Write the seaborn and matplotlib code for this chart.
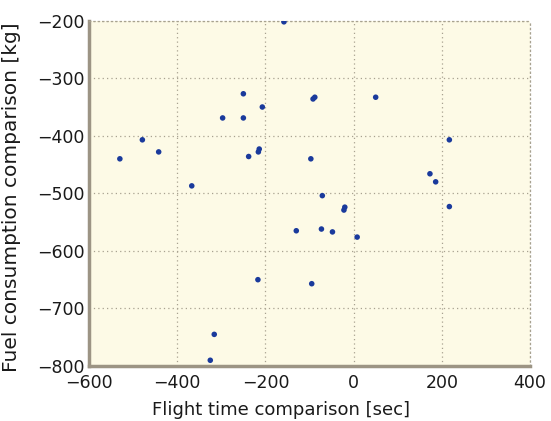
import matplotlib
matplotlib.use("Agg")
import matplotlib.pyplot as plt
import seaborn as sns
import pandas as pd

flight_time = [-158, -250, -207, -297, -250, -479, -442, -530, -238, -216, -214,
               -367, -92, -88, -97, 50, -71, 217, 173, 186, -130, -217, -95,
               -316, -325, -20, -22, 217, -73, -48, 8]
fuel = [-202, -327, -350, -369, -369, -407, -428, -440, -436, -428, -423,
        -487, -336, -333, -440, -333, -504, -407, -466, -480, -565, -650, -657,
        -745, -790, -524, -529, -523, -562, -567, -576]
x_ticks = [-600, -400, -200, 0, 200, 400]
y_ticks = [-800, -700, -600, -500, -400, -300, -200]

df = pd.DataFrame({"Flight time comparison [sec]": flight_time,
                   "Fuel consumption comparison [kg]": fuel})

sns.set_style("white")
plt.rcParams["font.family"] = ["DejaVu Sans"]
plt.rcParams["text.color"] = "#1a1a1a"
plt.rcParams["axes.labelcolor"] = "#1a1a1a"
plt.rcParams["xtick.labelcolor"] = "#1a1a1a"
plt.rcParams["ytick.labelcolor"] = "#1a1a1a"

fig = plt.figure(figsize=(5.51, 4.21), dpi=100)
ax = fig.add_axes([0.1615, 0.1306, 0.8005, 0.8203])
ax.set_facecolor("#fdfae6")

sns.scatterplot(data=df, x="Flight time comparison [sec]",
                y="Fuel consumption comparison [kg]", ax=ax,
                color="#1a3a9c", s=16, edgecolor="none", zorder=3)

ax.set_xlim(-600, 400)
ax.set_ylim(-800, -200)
ax.set_xticks(x_ticks)
ax.set_yticks(y_ticks)
ax.set_xticklabels([str(v).replace("-", "\u2212") for v in x_ticks], fontsize=12.5)
ax.set_yticklabels([str(v).replace("-", "\u2212") for v in y_ticks], fontsize=12.5)
ax.grid(True, linestyle=(0, (1, 2.5)), color="#a8a290", linewidth=0.9)
ax.tick_params(direction="in", length=4, color="#555555", width=1, pad=3)
ax.tick_params(axis="x", pad=6)
for side in ["top", "right"]:
    ax.spines[side].set_visible(True)
    ax.spines[side].set_linestyle((0, (1, 2.5)))
    ax.spines[side].set_color("#a8a290")
    ax.spines[side].set_linewidth(0.9)
for side in ["left", "bottom"]:
    ax.spines[side].set_color("#9c9484")
    ax.spines[side].set_linewidth(2.5)
ax.set_xlabel("Flight time comparison [sec]", fontsize=13)
ax.set_ylabel("Fuel consumption comparison [kg]", fontsize=14.5)
ax.xaxis.set_label_coords(0.435, -0.1)
ax.yaxis.set_label_coords(-0.155, 0.49)

fig.savefig("out.png", dpi=100)
